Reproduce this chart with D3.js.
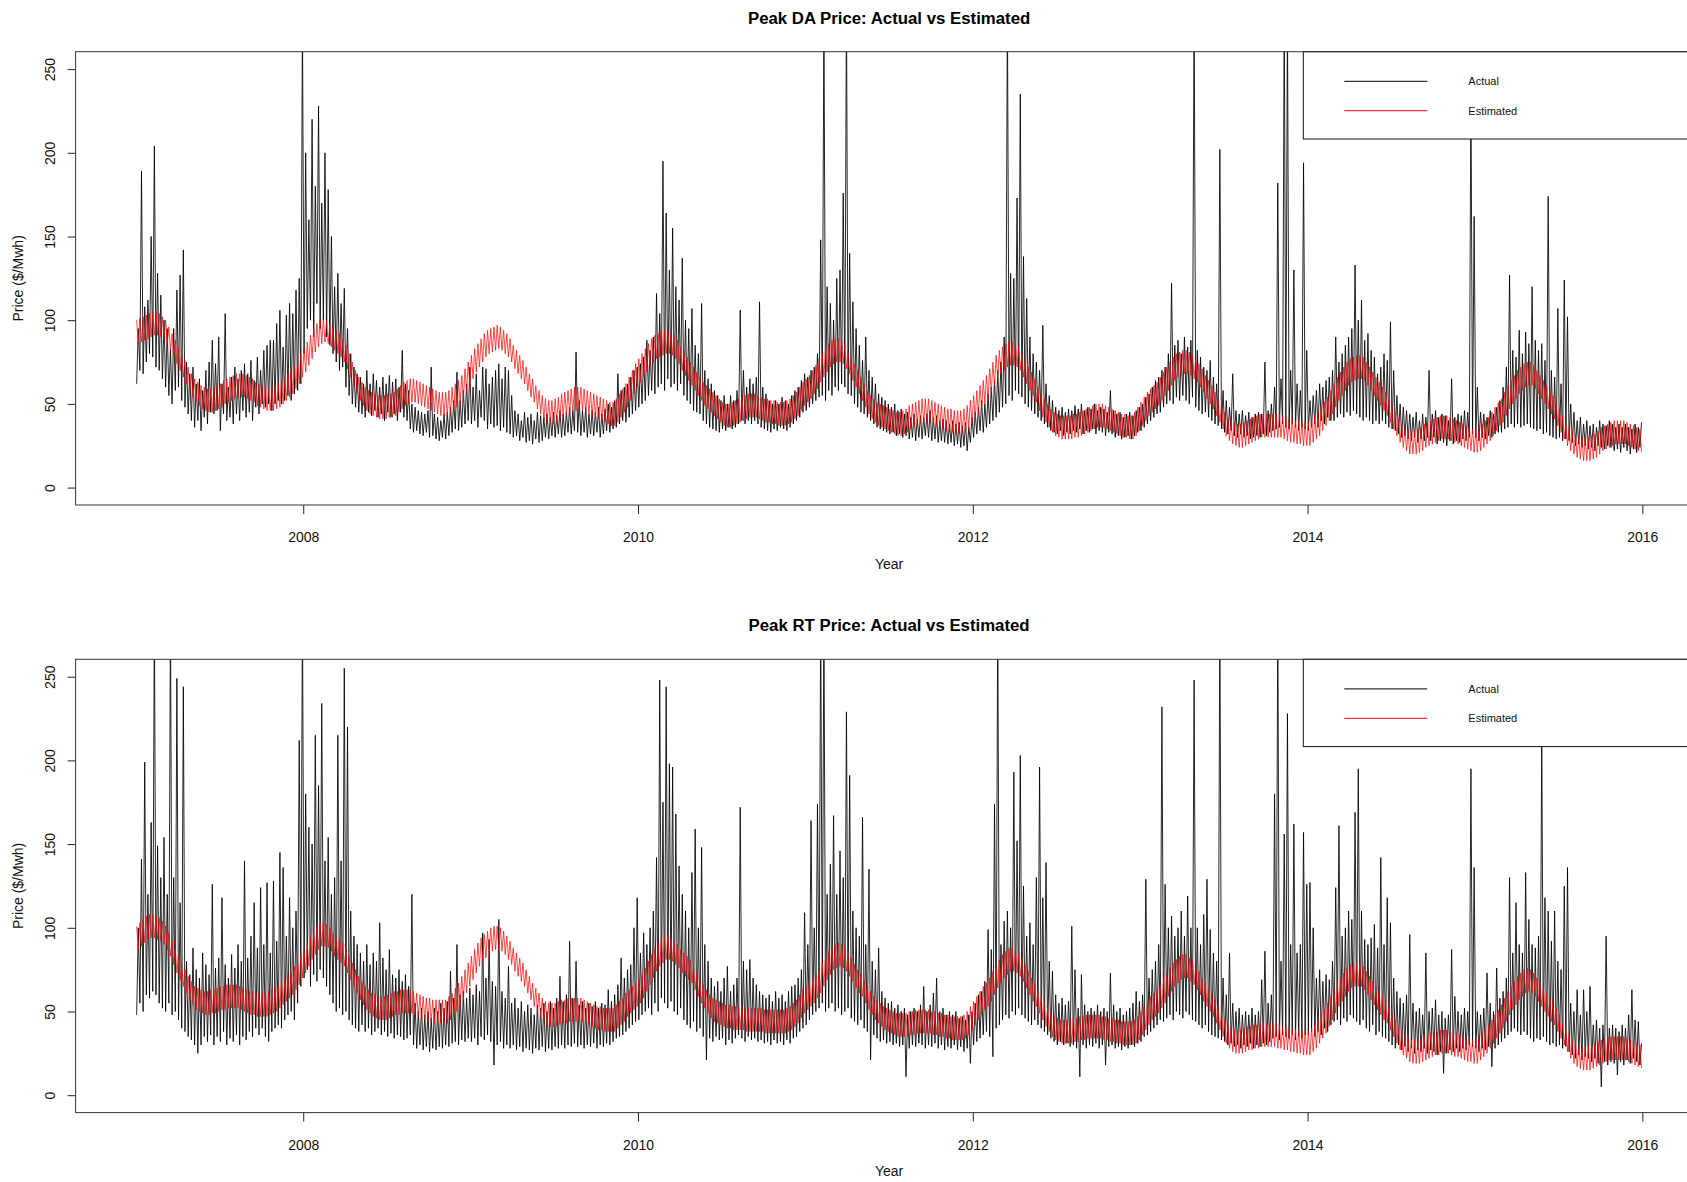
<!DOCTYPE html>
<html>
<head>
<meta charset="utf-8">
<script src="https://cdn.jsdelivr.net/npm/d3@7"></script>
<style>
body { margin: 0; background: #fff; }
svg { display: block; font-family: "Liberation Sans", Arial, sans-serif; }
</style>
</head>
<body>
<div id="chart"></div>
<script>
// Weekly values, one row per year (52 weeks). Actual: low and high of each week.
// Estimated: the two sides of its weekly swing.
const years = [2007, 2008, 2009, 2010, 2011, 2012, 2013, 2014, 2015];
const xTicks = [2008, 2010, 2012, 2014, 2016];
const yTicks = [0, 50, 100, 150, 200, 250];

// ---------- Peak DA ----------
const daActLo = [
  [62,70,68,75,80,78,72,70,65,60,55,50,58,60,52,48,44,40,36,40,34,42,38,45,44,46,34,44,40,42,38,44,40,46,42,45,40,48,44,50,48,50,46,50,52,50,52,55,52,56,58,62],
  [80,95,100,90,110,95,100,90,85,80,75,70,72,60,55,50,48,45,44,42,45,43,46,42,44,40,45,42,44,40,45,42,40,35,33,34,32,31,33,30,31,29,28,30,29,31,33,35,34,36,38,40],
  [38,40,36,42,40,35,38,36,37,34,36,33,32,30,31,28,30,27,28,26,29,27,28,30,29,31,30,32,30,31,33,32,34,33,31,33,30,32,31,33,30,32,34,33,35,36,38,40,39,42,44,46],
  [48,50,52,55,58,56,60,62,58,65,60,62,58,62,55,52,50,46,45,44,40,38,36,35,34,33,35,34,36,35,36,38,40,38,40,38,40,38,36,35,34,33,35,34,36,35,34,36,38,40,42,45],
  [46,48,50,52,54,55,52,58,55,60,58,62,60,56,55,50,48,45,44,42,40,38,36,35,34,33,32,33,31,32,30,31,29,30,28,30,29,31,30,28,29,27,28,27,26,27,25,26,24,25,22,27],
  [30,32,34,33,36,38,40,42,45,48,50,55,52,58,56,54,50,48,46,44,42,40,38,36,34,33,32,34,31,33,32,34,33,35,32,34,33,35,32,34,33,31,33,32,30,31,29,30,31,29,31,33],
  [34,36,38,40,42,44,45,48,50,52,50,54,52,55,52,50,54,48,46,44,45,42,40,38,37,35,33,32,34,31,30,32,30,31,29,30,31,30,32,31,33,34,35,36,38,36,35,38,36,34,36,35],
  [34,36,38,36,40,38,42,40,40,42,44,42,45,43,46,44,42,40,42,40,38,40,38,40,38,36,35,34,32,30,31,29,28,30,27,29,28,30,28,30,26,28,27,25,28,26,28,27,29,28,30,32],
  [30,28,30,29,31,30,32,33,33,35,36,38,36,38,36,37,38,36,35,34,35,32,33,31,30,29,30,28,29,28,27,25,26,24,25,23,24,22,25,24,23,25,24,22,23,21,24,22,20,23,21,24]
];
const daActHi = [
  [95,189,108,112,150,204,128,115,100,95,83,95,118,127,142,75,68,72,62,65,58,70,75,88,74,90,62,104,60,66,72,65,70,74,68,76,64,78,70,82,85,88,88,98,106,84,103,110,104,118,125,280],
  [200,160,220,180,228,170,200,178,150,120,128,110,119,95,80,72,68,66,62,70,62,68,64,60,66,62,67,63,65,60,82,62,58,50,48,46,45,44,46,72,44,42,40,44,45,48,52,69,52,58,62,72],
  [60,68,58,72,71,62,66,70,74,65,72,70,55,46,44,40,45,42,44,40,45,43,42,44,42,45,43,46,44,45,48,46,81,52,46,48,44,46,45,48,44,47,50,48,52,68,58,60,62,66,70,72],
  [74,78,88,82,90,116,104,195,164,130,155,120,112,137,100,95,107,85,80,110,70,65,62,58,55,52,55,50,55,52,58,106,70,60,65,62,66,111,60,56,52,50,52,50,54,52,50,55,58,60,64,68],
  [66,70,72,80,148,285,120,110,100,125,130,176,290,140,111,95,85,76,90,70,66,62,56,54,52,50,48,50,46,47,44,45,42,44,41,43,42,44,46,42,43,40,41,40,38,40,38,39,37,39,36,42],
  [45,48,52,50,56,60,64,70,75,90,290,128,125,173,235,138,113,90,80,75,70,97,62,55,52,48,46,48,45,47,46,49,47,50,46,48,47,50,46,48,47,45,58,46,44,45,42,44,45,43,46,48],
  [50,54,56,60,64,66,70,72,80,122,85,88,80,90,84,88,290,82,78,72,70,76,66,62,202,58,52,48,68,46,44,46,43,45,42,44,45,44,75,46,50,60,182,65,290,285,70,130,62,58,194,82],
  [52,55,58,62,60,64,66,70,90,75,80,85,90,95,133,100,112,88,92,82,78,68,72,80,76,99,70,55,50,48,46,44,42,45,40,44,42,70,44,46,42,44,43,40,65,42,44,43,46,45,240,162],
  [60,45,44,42,46,44,48,52,60,72,127,82,78,94,80,93,86,120,88,82,86,76,174,70,66,107,62,124,102,50,45,40,42,38,40,37,38,36,40,38,37,40,38,36,38,36,38,36,35,38,36,39]
];
const daEstHi = [
  [100,101,102,103,104,105,105,104,102,100,96,92,88,84,80,76,72,68,65,63,61,60,59,59,60,61,62,64,65,66,67,68,68,68,67,66,65,63,62,61,60,60,60,61,62,64,66,68,70,73,76,80],
  [83,87,91,95,98,100,101,100,98,96,94,92,89,85,80,75,70,66,63,60,58,57,56,55,55,55,56,56,57,59,61,63,64,65,65,64,63,62,61,60,59,58,57,57,57,58,60,62,64,67,71,75],
  [79,83,86,89,92,94,95,96,97,96,94,92,89,85,82,79,76,72,68,65,61,58,55,53,52,52,53,54,56,57,58,59,60,60,60,59,58,57,56,55,54,53,52,51,51,53,56,59,62,66,70,74],
  [77,80,83,86,89,91,92,93,94,94,93,91,88,84,81,78,75,72,69,66,63,61,59,57,55,53,51,50,50,51,52,53,54,55,56,56,56,55,54,53,53,52,52,51,51,51,52,53,55,57,60,63],
  [65,67,70,73,77,80,83,86,88,89,89,88,85,82,78,74,70,66,62,58,55,53,51,50,49,48,47,46,45,45,46,47,49,50,51,52,53,53,53,52,51,50,49,48,47,47,46,46,46,47,49,52],
  [55,58,61,64,67,71,75,79,82,84,86,87,87,86,84,80,76,72,69,65,60,56,53,50,47,45,44,43,43,43,43,44,44,45,46,47,48,49,50,50,50,49,48,47,46,45,44,44,43,43,45,48],
  [51,54,57,59,61,63,66,69,72,75,78,80,81,82,82,81,79,77,74,71,67,64,61,57,53,49,45,42,40,39,38,38,39,40,41,42,43,44,44,44,44,44,44,44,43,42,41,41,40,40,39,39],
  [39,41,43,45,48,51,54,58,62,66,69,72,75,77,78,79,79,78,75,72,69,66,63,60,57,53,49,45,41,38,36,34,34,34,35,36,38,39,40,41,42,43,43,43,42,41,40,39,38,37,36,35],
  [35,36,38,40,42,45,48,51,53,57,61,64,67,70,72,74,75,75,73,70,67,64,61,58,55,51,47,43,39,36,34,32,31,30,30,30,31,32,34,36,37,38,39,40,40,40,40,39,38,37,36,35]
];
const daEstLo = [
  [86,87,88,89,90,91,91,90,88,86,82,78,74,70,66,62,58,54,51,49,47,46,45,45,46,47,48,50,51,52,53,54,54,54,53,52,51,49,48,47,46,46,46,47,48,50,52,54,56,59,62,66],
  [69,73,77,81,84,86,87,86,84,82,80,78,75,71,66,61,56,52,49,46,44,43,42,41,41,41,42,42,43,45,47,49,50,51,51,50,49,48,47,46,45,44,43,43,43,44,46,48,50,53,57,61],
  [65,69,72,75,78,80,81,82,83,82,80,78,75,71,68,65,62,58,54,51,47,44,41,39,38,38,39,40,42,43,44,45,46,46,46,45,44,43,42,41,40,39,38,37,37,39,42,45,48,52,56,60],
  [63,66,69,72,75,77,78,79,80,80,79,77,74,70,67,64,61,58,55,52,49,47,45,43,41,39,37,36,36,37,38,39,40,41,42,42,42,41,40,39,39,38,38,37,37,37,38,39,41,43,46,49],
  [51,53,56,59,63,66,69,72,74,75,75,74,71,68,64,60,56,52,48,44,41,39,37,36,35,34,33,32,31,31,32,33,35,36,37,38,39,39,39,38,37,36,35,34,33,33,32,32,32,33,35,38],
  [41,44,47,50,53,57,61,65,68,70,72,73,73,72,70,66,62,58,55,51,46,42,39,36,33,31,30,29,29,29,29,30,30,31,32,33,34,35,36,36,36,35,34,33,32,31,30,30,29,29,31,34],
  [37,40,43,45,47,49,52,55,58,61,64,66,67,68,68,67,65,63,60,57,53,50,47,43,39,35,31,28,26,25,24,24,25,26,27,28,29,30,30,30,30,30,30,30,29,28,27,27,26,26,25,25],
  [25,27,29,31,34,37,40,44,48,52,55,58,61,63,64,65,65,64,61,58,55,52,49,46,43,39,35,31,27,24,22,20,20,20,21,22,24,25,26,27,28,29,29,29,28,27,26,25,24,23,22,21],
  [21,22,24,26,28,31,34,37,39,43,47,50,53,56,58,60,61,61,59,56,53,50,47,44,41,37,33,29,25,22,20,18,17,16,16,16,17,18,20,22,23,24,25,26,26,26,26,25,24,23,22,21]
];

// ---------- Peak RT ----------
const rtActLo = [
  [48,55,50,60,58,62,60,55,52,50,55,48,50,45,40,38,35,33,30,25,30,35,32,36,30,35,32,38,30,34,32,36,30,35,33,38,35,40,36,40,35,32,38,40,42,40,45,48,50,45,55,65],
  [70,75,65,72,68,75,70,65,60,55,50,52,48,50,45,42,40,38,42,38,40,36,38,40,36,38,35,37,34,36,35,33,34,36,30,28,30,27,29,26,28,27,29,28,30,29,31,32,30,33,32,34],
  [32,34,30,35,33,36,32,18,30,32,28,30,28,30,27,29,26,28,27,25,28,27,29,26,28,27,29,28,30,28,30,29,31,29,30,28,30,29,31,28,30,29,31,30,32,34,35,36,38,40,42,44],
  [45,48,50,52,48,55,50,58,55,52,56,50,48,52,45,42,40,44,38,40,35,21,34,32,35,33,34,30,33,31,34,36,34,32,35,33,34,32,33,31,32,30,33,31,32,30,33,31,34,35,38,40],
  [42,45,48,50,52,55,50,52,55,50,52,48,50,52,46,44,42,45,40,38,21,36,34,32,33,31,32,30,31,29,30,11,28,30,29,31,30,28,30,29,31,28,30,27,29,28,30,27,29,26,28,19],
  [30,32,34,36,38,35,23,40,42,45,48,46,50,48,52,48,46,44,42,45,42,40,38,36,34,32,30,32,30,31,29,30,28,11,30,28,30,29,31,28,30,18,29,30,28,29,27,29,28,30,29,31],
  [32,35,36,38,40,42,45,44,46,48,45,50,48,46,50,48,45,44,42,40,42,38,36,35,34,33,32,30,31,29,30,28,30,29,31,28,30,29,31,30,32,34,35,33,36,35,34,36,33,35,34,36],
  [36,38,35,38,36,40,38,42,44,45,42,46,44,48,46,44,42,45,40,38,42,36,38,35,34,32,30,28,30,27,29,26,28,25,27,26,28,25,27,26,24,26,13,25,27,26,28,26,28,27,30,29],
  [28,26,28,27,29,17,28,30,32,34,36,38,40,38,36,38,36,34,32,34,33,35,32,30,31,29,30,28,29,26,24,22,24,21,23,22,20,22,19,5,20,18,20,19,12,20,18,21,19,22,20,18]
];
const rtActHi = [
  [100,141,199,120,163,290,149,130,154,120,290,130,249,115,244,80,72,88,75,70,85,78,72,126,76,82,118,78,70,84,76,90,80,140,82,95,115,88,124,90,127,85,128,92,145,136,95,118,100,110,212,290],
  [180,160,150,215,185,234,140,154,120,130,215,140,255,220,110,95,90,85,80,90,78,85,80,103,82,75,87,72,70,75,68,72,65,120,55,50,52,48,50,46,52,50,55,52,56,74,58,90,60,62,58,64],
  [60,66,62,97,70,93,68,65,105,62,58,77,55,58,52,56,50,54,52,48,54,52,55,50,56,52,58,71,56,60,92,58,80,54,56,52,55,53,56,52,55,54,63,56,60,66,82,70,75,78,100,118],
  [85,97,90,100,110,142,248,175,244,198,196,168,137,120,110,100,133,159,100,148,90,80,70,65,68,62,70,77,62,66,70,172,80,75,81,70,66,62,60,58,60,56,62,58,60,56,62,65,66,70,75,109],
  [90,164,100,174,290,290,120,138,167,120,146,130,229,191,110,100,95,166,90,135,80,75,88,62,58,55,56,52,54,50,52,48,50,52,50,54,65,50,54,61,70,50,52,48,50,48,50,46,47,45,48,50],
  [55,60,62,68,99,87,174,290,90,104,110,100,193,152,203,125,95,103,90,130,196,118,139,80,74,60,55,58,54,56,101,75,52,72,54,50,52,50,54,50,52,50,73,54,50,52,48,50,52,55,62,56],
  [60,129,70,75,80,90,232,126,100,107,95,100,110,95,119,100,248,100,90,108,129,99,85,80,290,70,60,85,55,50,52,48,50,48,52,48,50,69,86,55,60,180,290,80,156,228,90,162,85,90,157,126],
  [127,100,70,75,68,72,69,80,124,161,95,100,110,105,169,195,110,93,90,94,102,88,142,90,118,103,70,62,58,55,60,96,55,50,52,48,85,50,52,57,48,50,46,48,87,59,50,48,52,50,195,136],
  [50,48,52,73,55,50,76,58,62,70,130,85,115,90,85,133,105,90,88,95,212,118,110,92,110,80,75,125,136,55,50,63,48,63,50,65,42,45,40,42,95,40,42,40,38,42,40,48,63,45,44,31]
];
const rtEstHi = [
  [101,103,105,107,108,108,107,106,104,101,97,92,87,83,79,75,71,68,65,64,63,62,62,63,63,64,65,65,66,66,66,66,65,64,63,62,62,61,61,61,61,62,63,64,66,68,70,72,74,77,80,84],
  [87,91,95,98,101,103,103,102,100,97,95,93,91,87,83,79,75,71,68,65,63,61,60,59,59,59,60,61,62,62,63,63,63,63,62,61,60,59,58,58,57,57,57,57,57,59,61,64,67,71,75,79],
  [83,87,91,94,96,98,100,101,101,100,98,95,92,88,85,82,79,75,71,67,64,61,58,56,55,55,55,56,57,57,58,58,58,58,58,57,56,55,54,53,53,52,52,52,52,54,56,58,61,63,65,67],
  [69,72,76,80,84,88,91,93,95,95,94,92,90,87,85,83,81,77,73,69,66,63,60,58,57,56,55,54,54,53,53,53,53,52,52,52,52,52,52,51,51,51,51,51,51,51,52,53,55,57,60,63],
  [65,67,69,72,75,79,83,86,89,90,91,90,88,85,82,78,75,73,69,65,62,59,57,55,53,52,51,50,49,49,49,49,50,50,51,51,51,51,51,50,50,49,49,48,48,47,47,47,47,48,50,53],
  [56,59,62,65,67,70,74,78,81,84,86,88,88,87,85,82,78,74,70,67,63,59,55,52,49,47,46,45,45,45,45,46,46,47,47,48,48,48,48,48,47,47,46,46,45,45,44,44,44,44,45,47],
  [50,53,56,59,61,63,66,69,73,76,79,81,83,84,84,82,80,77,74,70,67,64,61,57,53,49,45,42,40,39,39,39,40,41,41,42,42,43,43,43,43,43,42,42,41,41,40,40,39,39,38,38],
  [38,40,42,45,48,51,55,59,63,67,70,73,76,78,79,79,79,77,74,71,68,65,62,59,57,53,49,45,41,38,36,34,33,33,33,34,35,36,37,38,38,39,39,39,38,37,37,36,35,34,34,33],
  [33,35,37,39,42,45,48,51,54,58,62,65,68,71,73,75,76,75,73,70,67,64,61,58,56,52,48,44,40,36,33,31,30,29,29,29,30,31,32,33,34,35,35,35,35,35,35,34,33,32,31,30]
];
const rtEstLo = [
  [87,89,91,93,94,94,93,92,90,87,83,78,73,69,65,61,57,54,51,50,49,48,48,49,49,50,51,51,52,52,52,52,51,50,49,48,48,47,47,47,47,48,49,50,52,54,56,58,60,63,66,70],
  [73,77,81,84,87,89,89,88,86,83,81,79,77,73,69,65,61,57,54,51,49,47,46,45,45,45,46,47,48,48,49,49,49,49,48,47,46,45,44,44,43,43,43,43,43,45,47,50,53,57,61,65],
  [69,73,77,80,82,84,86,87,87,86,84,81,78,74,71,68,65,61,57,53,50,47,44,42,41,41,41,42,43,43,44,44,44,44,44,43,42,41,40,39,39,38,38,38,38,40,42,44,47,49,51,53],
  [55,58,62,66,70,74,77,79,81,81,80,78,76,73,71,69,67,63,59,55,52,49,46,44,43,42,41,40,40,39,39,39,39,38,38,38,38,38,38,37,37,37,37,37,37,37,38,39,41,43,46,49],
  [51,53,55,58,61,65,69,72,75,76,77,76,74,71,68,64,61,59,55,51,48,45,43,41,39,38,37,36,35,35,35,35,36,36,37,37,37,37,37,36,36,35,35,34,34,33,33,33,33,34,36,39],
  [42,45,48,51,53,56,60,64,67,70,72,74,74,73,71,68,64,60,56,53,49,45,41,38,35,33,32,31,31,31,31,32,32,33,33,34,34,34,34,34,33,33,32,32,31,31,30,30,30,30,31,33],
  [36,39,42,45,47,49,52,55,59,62,65,67,69,70,70,68,66,63,60,56,53,50,47,43,39,35,31,28,26,25,25,25,26,27,27,28,28,29,29,29,29,29,28,28,27,27,26,26,25,25,24,24],
  [24,26,28,31,34,37,41,45,49,53,56,59,62,64,65,65,65,63,60,57,54,51,48,45,43,39,35,31,27,24,22,20,19,19,19,20,21,22,23,24,24,25,25,25,24,23,23,22,21,20,20,19],
  [19,21,23,25,28,31,34,37,40,44,48,51,54,57,59,61,62,61,59,56,53,50,47,44,42,38,34,30,26,22,19,17,16,15,15,15,16,17,18,19,20,21,21,21,21,21,21,20,19,18,17,16]
];

const WIDTH = 1687, HEIGHT = 1182;
const plotLeft = 75.6, plotRight = 1702.6;
const panelHeight = 453.3;
const panelTops = [51.7, 659.3];

const svg = d3.select("#chart")
    .append("svg")
    .attr("width", WIDTH)
    .attr("height", HEIGHT);

// Turn the weekly low/high rows into a zig-zag of [year, value] points
function weeklyPoints(first, second) {
    let pts = [];
    first.forEach(function(row, yi) {
        row.forEach(function(v, w) {
            pts.push([years[yi] + (w + 0.25) / row.length, v]);
            pts.push([years[yi] + (w + 0.75) / row.length, second[yi][w]]);
        });
    });
    return pts;
}

function drawPanel(idx, title, actLo, actHi, estHi, estLo) {
    const top = panelTops[idx];
    const bottom = top + panelHeight;

    let x = d3.scaleLinear().domain([2006.64, 2016.36]).range([plotLeft, plotRight]);
    let y = d3.scaleLinear().domain([-10.4, 260.4]).range([bottom, top]);

    svg.append("clipPath")
        .attr("id", "clip" + idx)
        .append("rect")
        .attr("x", plotLeft).attr("y", top)
        .attr("width", plotRight - plotLeft).attr("height", panelHeight);

    let line = d3.line().x(d => x(d[0])).y(d => y(d[1]));

    let marks = svg.append("g").attr("clip-path", `url(#clip${idx})`);
    marks.append("path")
        .datum(weeklyPoints(actLo, actHi))
        .attr("d", line)
        .attr("fill", "none")
        .attr("stroke", "#000")
        .attr("stroke-width", 0.85);
    marks.append("path")
        .datum(weeklyPoints(estHi, estLo))
        .attr("d", line)
        .attr("fill", "none")
        .attr("stroke", "#ff0000")
        .attr("stroke-width", 0.7);

    // Axes
    let xAxis = svg.append("g")
        .attr("transform", `translate(0, ${bottom})`)
        .call(d3.axisBottom(x).tickValues(xTicks).tickFormat(d3.format("d")).tickSize(9).tickPadding(18));
    xAxis.select(".domain").remove();

    let yAxis = svg.append("g")
        .attr("transform", `translate(${plotLeft}, 0)`)
        .call(d3.axisLeft(y).tickValues(yTicks).tickSize(8));
    yAxis.select(".domain").remove();
    yAxis.selectAll(".tick text")
        .attr("x", 0)
        .attr("y", -25.3)
        .attr("dy", null)
        .attr("transform", "rotate(-90)")
        .style("text-anchor", "middle")
        .attr("dominant-baseline", "central");

    svg.selectAll(".tick line").attr("stroke", "#222");
    svg.selectAll(".tick text")
        .attr("fill", "#111")
        .style("font-family", "'Liberation Sans', Arial, sans-serif")
        .style("font-size", "14px");

    // Legend (top right, white box over the lines)
    let lg = svg.append("g");
    lg.append("rect")
        .attr("x", 1303.3).attr("y", top)
        .attr("width", plotRight - 1303.3).attr("height", 87.3)
        .attr("fill", "#fff").attr("stroke", "#111").attr("stroke-width", 1);
    const legendItems = [["Actual", "#000", 29.6], ["Estimated", "#ff0000", 59]];
    legendItems.forEach(function(item) {
        lg.append("line")
            .attr("x1", 1344.3).attr("x2", 1427.3)
            .attr("y1", top + item[2]).attr("y2", top + item[2])
            .attr("stroke", item[1]).attr("stroke-width", 1);
        lg.append("text")
            .attr("x", 1468.3).attr("y", top + item[2])
            .attr("dominant-baseline", "central")
            .style("font-size", "11px")
            .attr("fill", "#111")
            .text(item[0]);
    });

    // Plot box
    svg.append("rect")
        .attr("x", plotLeft).attr("y", top)
        .attr("width", plotRight - plotLeft).attr("height", panelHeight)
        .attr("fill", "none").attr("stroke", "#333").attr("stroke-width", 1);

    // Title and axis labels
    const centerX = (plotLeft + plotRight) / 2;
    svg.append("text")
        .attr("x", centerX).attr("y", top - 33.4)
        .attr("dominant-baseline", "central")
        .style("text-anchor", "middle")
        .style("font-size", "16.8px")
        .style("font-weight", "bold")
        .text(title);
    svg.append("text")
        .attr("x", centerX).attr("y", bottom + 58.8)
        .attr("dominant-baseline", "central")
        .style("text-anchor", "middle")
        .style("font-size", "14px")
        .attr("fill", "#111")
        .text("Year");
    svg.append("text")
        .attr("transform", `translate(18.3, ${top + panelHeight / 2}) rotate(-90)`)
        .attr("dominant-baseline", "central")
        .style("text-anchor", "middle")
        .style("font-size", "14px")
        .attr("fill", "#111")
        .text("Price ($/Mwh)");
}

drawPanel(0, "Peak DA Price: Actual vs Estimated", daActLo, daActHi, daEstHi, daEstLo);
drawPanel(1, "Peak RT Price: Actual vs Estimated", rtActLo, rtActHi, rtEstHi, rtEstLo);
</script>
</body>
</html>
